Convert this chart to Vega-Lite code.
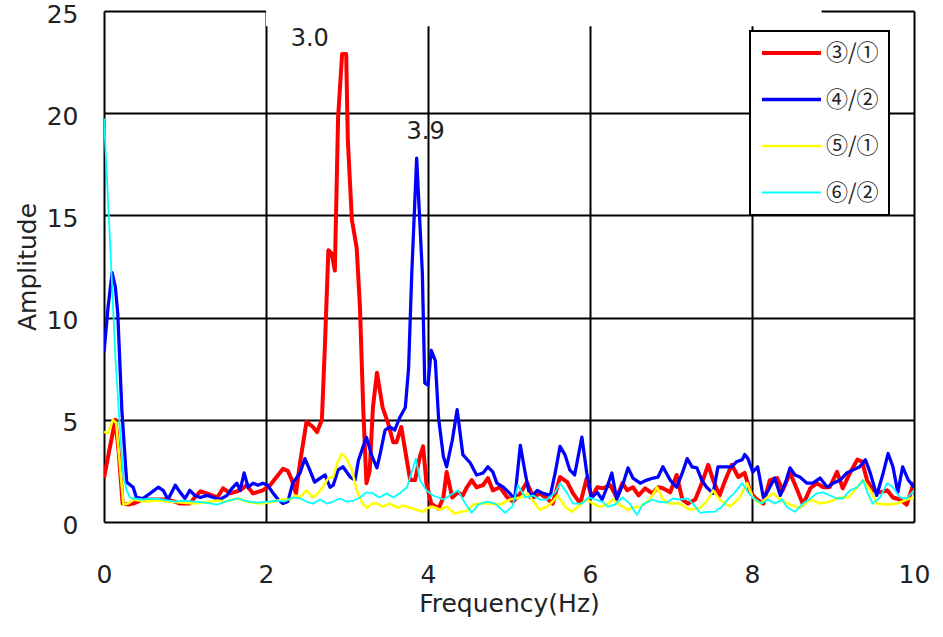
{
  "$schema": "https://vega.github.io/schema/vega-lite/v6.json",
  "width": 810,
  "height": 511,
  "autosize": {"type": "none"},
  "padding": {"left": 104, "top": 11, "right": 29, "bottom": 115},
  "background": "white",
  "config": {
    "view": {"stroke": null},
    "font": "DejaVu Sans",
    "axis": {
      "grid": true, "gridColor": "#000000", "gridWidth": 2, "gridOpacity": 1,
      "domain": false, "ticks": false,
      "labelFont": "DejaVu Sans", "labelFontSize": 25, "labelColor": "#222222",
      "titleFont": "DejaVu Sans", "titleFontSize": 25, "titleFontWeight": "normal", "titleColor": "#222222"
    },
    "legend": {
      "padding": 10, "strokeColor": "#000000", "strokeWidth": 2, "fillColor": "#ffffff",
      "symbolType": "stroke", "symbolSize": 3481, "clipHeight": 24, "rowPadding": 22.5,
      "labelOffset": 3, "labelFont": "Noto Sans CJK JP", "labelFontSize": 22, "labelColor": "#222222"
    }
  },
  "data": {
    "values": [
      {"s":"③/①","f":0,"a":2.15},{"s":"③/①","f":0.07,"a":3.6},{"s":"③/①","f":0.14,"a":5.0},{"s":"③/①","f":0.18,"a":3.5},{"s":"③/①","f":0.23,"a":0.9},{"s":"③/①","f":0.3,"a":0.85},{"s":"③/①","f":0.36,"a":0.9},{"s":"③/①","f":0.48,"a":1.1},{"s":"③/①","f":0.6,"a":1.1},{"s":"③/①","f":0.78,"a":1.1},{"s":"③/①","f":0.87,"a":1.0},{"s":"③/①","f":0.94,"a":0.9},{"s":"③/①","f":1.06,"a":0.9},{"s":"③/①","f":1.12,"a":1.2},{"s":"③/①","f":1.19,"a":1.5},{"s":"③/①","f":1.27,"a":1.4},{"s":"③/①","f":1.4,"a":1.2},{"s":"③/①","f":1.47,"a":1.65},{"s":"③/①","f":1.56,"a":1.4},{"s":"③/①","f":1.68,"a":1.55},{"s":"③/①","f":1.76,"a":1.8},{"s":"③/①","f":1.84,"a":1.4},{"s":"③/①","f":1.96,"a":1.55},{"s":"③/①","f":2.05,"a":1.8},{"s":"③/①","f":2.13,"a":2.2},{"s":"③/①","f":2.21,"a":2.6},{"s":"③/①","f":2.27,"a":2.5},{"s":"③/①","f":2.32,"a":2.05},{"s":"③/①","f":2.37,"a":1.4},{"s":"③/①","f":2.42,"a":2.9},{"s":"③/①","f":2.5,"a":4.9},{"s":"③/①","f":2.58,"a":4.65},{"s":"③/①","f":2.63,"a":4.4},{"s":"③/①","f":2.69,"a":5.0},{"s":"③/①","f":2.73,"a":8.9},{"s":"③/①","f":2.77,"a":13.3},{"s":"③/①","f":2.81,"a":13.15},{"s":"③/①","f":2.85,"a":12.3},{"s":"③/①","f":2.89,"a":19.8},{"s":"③/①","f":2.94,"a":22.9},{"s":"③/①","f":2.99,"a":22.9},{"s":"③/①","f":3.01,"a":18.7},{"s":"③/①","f":3.06,"a":14.8},{"s":"③/①","f":3.12,"a":13.4},{"s":"③/①","f":3.16,"a":10.5},{"s":"③/①","f":3.2,"a":5.6},{"s":"③/①","f":3.24,"a":1.9},{"s":"③/①","f":3.28,"a":2.5},{"s":"③/①","f":3.32,"a":5.6},{"s":"③/①","f":3.37,"a":7.3},{"s":"③/①","f":3.44,"a":5.6},{"s":"③/①","f":3.51,"a":4.8},{"s":"③/①","f":3.57,"a":3.9},{"s":"③/①","f":3.61,"a":3.9},{"s":"③/①","f":3.67,"a":4.65},{"s":"③/①","f":3.71,"a":3.7},{"s":"③/①","f":3.78,"a":2.05},{"s":"③/①","f":3.84,"a":2.05},{"s":"③/①","f":3.9,"a":3.2},{"s":"③/①","f":3.94,"a":3.7},{"s":"③/①","f":3.98,"a":1.9},{"s":"③/①","f":4.04,"a":0.9},{"s":"③/①","f":4.13,"a":0.65},{"s":"③/①","f":4.19,"a":1.2},{"s":"③/①","f":4.23,"a":2.45},{"s":"③/①","f":4.3,"a":1.2},{"s":"③/①","f":4.37,"a":1.45},{"s":"③/①","f":4.43,"a":1.3},{"s":"③/①","f":4.48,"a":1.7},{"s":"③/①","f":4.54,"a":2.05},{"s":"③/①","f":4.6,"a":1.7},{"s":"③/①","f":4.68,"a":1.8},{"s":"③/①","f":4.74,"a":2.15},{"s":"③/①","f":4.8,"a":1.55},{"s":"③/①","f":4.89,"a":1.7},{"s":"③/①","f":4.98,"a":1.2},{"s":"③/①","f":5.05,"a":1.0},{"s":"③/①","f":5.14,"a":1.4},{"s":"③/①","f":5.22,"a":1.95},{"s":"③/①","f":5.3,"a":1.2},{"s":"③/①","f":5.38,"a":1.4},{"s":"③/①","f":5.47,"a":1.15},{"s":"③/①","f":5.54,"a":0.9},{"s":"③/①","f":5.63,"a":2.2},{"s":"③/①","f":5.72,"a":1.95},{"s":"③/①","f":5.79,"a":1.4},{"s":"③/①","f":5.88,"a":0.9},{"s":"③/①","f":5.96,"a":2.15},{"s":"③/①","f":6.02,"a":1.2},{"s":"③/①","f":6.09,"a":1.7},{"s":"③/①","f":6.16,"a":1.65},{"s":"③/①","f":6.25,"a":1.8},{"s":"③/①","f":6.33,"a":1.2},{"s":"③/①","f":6.4,"a":1.9},{"s":"③/①","f":6.46,"a":1.55},{"s":"③/①","f":6.53,"a":1.7},{"s":"③/①","f":6.6,"a":1.3},{"s":"③/①","f":6.68,"a":1.65},{"s":"③/①","f":6.77,"a":1.4},{"s":"③/①","f":6.84,"a":1.7},{"s":"③/①","f":6.9,"a":1.65},{"s":"③/①","f":6.99,"a":1.45},{"s":"③/①","f":7.07,"a":2.3},{"s":"③/①","f":7.14,"a":1.1},{"s":"③/①","f":7.21,"a":0.9},{"s":"③/①","f":7.3,"a":1.1},{"s":"③/①","f":7.38,"a":1.9},{"s":"③/①","f":7.46,"a":2.8},{"s":"③/①","f":7.52,"a":2.05},{"s":"③/①","f":7.6,"a":1.3},{"s":"③/①","f":7.67,"a":2.05},{"s":"③/①","f":7.75,"a":2.8},{"s":"③/①","f":7.83,"a":2.2},{"s":"③/①","f":7.91,"a":2.4},{"s":"③/①","f":7.98,"a":1.45},{"s":"③/①","f":8.06,"a":1.1},{"s":"③/①","f":8.14,"a":0.9},{"s":"③/①","f":8.22,"a":2.05},{"s":"③/①","f":8.31,"a":2.15},{"s":"③/①","f":8.38,"a":1.55},{"s":"③/①","f":8.47,"a":2.4},{"s":"③/①","f":8.56,"a":1.55},{"s":"③/①","f":8.63,"a":0.85},{"s":"③/①","f":8.72,"a":1.65},{"s":"③/①","f":8.8,"a":1.9},{"s":"③/①","f":8.88,"a":1.7},{"s":"③/①","f":8.96,"a":1.7},{"s":"③/①","f":9.05,"a":2.45},{"s":"③/①","f":9.12,"a":1.65},{"s":"③/①","f":9.21,"a":2.4},{"s":"③/①","f":9.3,"a":3.05},{"s":"③/①","f":9.36,"a":2.95},{"s":"③/①","f":9.42,"a":2.05},{"s":"③/①","f":9.49,"a":1.55},{"s":"③/①","f":9.58,"a":1.45},{"s":"③/①","f":9.67,"a":1.55},{"s":"③/①","f":9.74,"a":1.2},{"s":"③/①","f":9.83,"a":1.1},{"s":"③/①","f":9.91,"a":0.85},{"s":"③/①","f":10.0,"a":1.95},
      {"s":"④/②","f":0,"a":8.3},{"s":"④/②","f":0.05,"a":10.5},{"s":"④/②","f":0.1,"a":12.2},{"s":"④/②","f":0.14,"a":11.5},{"s":"④/②","f":0.17,"a":10.2},{"s":"④/②","f":0.22,"a":5.5},{"s":"④/②","f":0.28,"a":1.95},{"s":"④/②","f":0.36,"a":1.7},{"s":"④/②","f":0.4,"a":1.2},{"s":"④/②","f":0.48,"a":1.15},{"s":"④/②","f":0.57,"a":1.4},{"s":"④/②","f":0.67,"a":1.7},{"s":"④/②","f":0.73,"a":1.55},{"s":"④/②","f":0.79,"a":1.1},{"s":"④/②","f":0.88,"a":1.8},{"s":"④/②","f":0.94,"a":1.45},{"s":"④/②","f":1.0,"a":1.15},{"s":"④/②","f":1.06,"a":1.55},{"s":"④/②","f":1.12,"a":1.3},{"s":"④/②","f":1.19,"a":1.2},{"s":"④/②","f":1.27,"a":1.3},{"s":"④/②","f":1.35,"a":1.2},{"s":"④/②","f":1.43,"a":1.1},{"s":"④/②","f":1.52,"a":1.3},{"s":"④/②","f":1.58,"a":1.65},{"s":"④/②","f":1.64,"a":1.9},{"s":"④/②","f":1.68,"a":1.55},{"s":"④/②","f":1.73,"a":2.4},{"s":"④/②","f":1.78,"a":1.7},{"s":"④/②","f":1.84,"a":1.9},{"s":"④/②","f":1.9,"a":1.8},{"s":"④/②","f":1.96,"a":1.9},{"s":"④/②","f":2.02,"a":1.8},{"s":"④/②","f":2.09,"a":1.4},{"s":"④/②","f":2.15,"a":1.1},{"s":"④/②","f":2.21,"a":0.9},{"s":"④/②","f":2.27,"a":1.0},{"s":"④/②","f":2.33,"a":1.9},{"s":"④/②","f":2.42,"a":2.4},{"s":"④/②","f":2.48,"a":3.1},{"s":"④/②","f":2.54,"a":2.55},{"s":"④/②","f":2.6,"a":1.95},{"s":"④/②","f":2.67,"a":2.15},{"s":"④/②","f":2.73,"a":2.3},{"s":"④/②","f":2.79,"a":1.7},{"s":"④/②","f":2.83,"a":1.8},{"s":"④/②","f":2.89,"a":2.55},{"s":"④/②","f":2.95,"a":2.7},{"s":"④/②","f":3.04,"a":2.2},{"s":"④/②","f":3.1,"a":2.05},{"s":"④/②","f":3.14,"a":3.0},{"s":"④/②","f":3.2,"a":3.7},{"s":"④/②","f":3.24,"a":4.15},{"s":"④/②","f":3.31,"a":3.2},{"s":"④/②","f":3.37,"a":2.65},{"s":"④/②","f":3.41,"a":3.35},{"s":"④/②","f":3.47,"a":4.5},{"s":"④/②","f":3.53,"a":4.65},{"s":"④/②","f":3.59,"a":4.5},{"s":"④/②","f":3.65,"a":5.1},{"s":"④/②","f":3.72,"a":5.6},{"s":"④/②","f":3.76,"a":7.5},{"s":"④/②","f":3.8,"a":12.2},{"s":"④/②","f":3.86,"a":17.8},{"s":"④/②","f":3.93,"a":12.2},{"s":"④/②","f":3.96,"a":6.8},{"s":"④/②","f":4.0,"a":6.7},{"s":"④/②","f":4.04,"a":8.4},{"s":"④/②","f":4.09,"a":7.9},{"s":"④/②","f":4.13,"a":5.1},{"s":"④/②","f":4.19,"a":3.2},{"s":"④/②","f":4.23,"a":2.7},{"s":"④/②","f":4.3,"a":4.0},{"s":"④/②","f":4.36,"a":5.5},{"s":"④/②","f":4.43,"a":3.3},{"s":"④/②","f":4.52,"a":2.9},{"s":"④/②","f":4.6,"a":2.3},{"s":"④/②","f":4.68,"a":2.4},{"s":"④/②","f":4.74,"a":2.7},{"s":"④/②","f":4.8,"a":2.45},{"s":"④/②","f":4.85,"a":1.9},{"s":"④/②","f":4.93,"a":1.7},{"s":"④/②","f":5.01,"a":1.4},{"s":"④/②","f":5.07,"a":1.1},{"s":"④/②","f":5.14,"a":3.75},{"s":"④/②","f":5.2,"a":2.4},{"s":"④/②","f":5.26,"a":1.2},{"s":"④/②","f":5.35,"a":1.55},{"s":"④/②","f":5.42,"a":1.4},{"s":"④/②","f":5.51,"a":1.3},{"s":"④/②","f":5.57,"a":2.4},{"s":"④/②","f":5.63,"a":3.7},{"s":"④/②","f":5.69,"a":3.3},{"s":"④/②","f":5.75,"a":2.55},{"s":"④/②","f":5.81,"a":2.3},{"s":"④/②","f":5.9,"a":4.15},{"s":"④/②","f":5.96,"a":2.4},{"s":"④/②","f":6.02,"a":1.2},{"s":"④/②","f":6.09,"a":1.45},{"s":"④/②","f":6.15,"a":1.1},{"s":"④/②","f":6.21,"a":1.7},{"s":"④/②","f":6.27,"a":2.4},{"s":"④/②","f":6.33,"a":1.1},{"s":"④/②","f":6.41,"a":1.9},{"s":"④/②","f":6.47,"a":2.65},{"s":"④/②","f":6.53,"a":2.15},{"s":"④/②","f":6.62,"a":1.9},{"s":"④/②","f":6.7,"a":2.05},{"s":"④/②","f":6.78,"a":2.15},{"s":"④/②","f":6.84,"a":2.2},{"s":"④/②","f":6.9,"a":2.7},{"s":"④/②","f":6.99,"a":2.05},{"s":"④/②","f":7.07,"a":1.7},{"s":"④/②","f":7.14,"a":2.4},{"s":"④/②","f":7.2,"a":3.1},{"s":"④/②","f":7.26,"a":2.7},{"s":"④/②","f":7.32,"a":2.65},{"s":"④/②","f":7.38,"a":2.05},{"s":"④/②","f":7.44,"a":1.7},{"s":"④/②","f":7.52,"a":1.4},{"s":"④/②","f":7.58,"a":2.7},{"s":"④/②","f":7.67,"a":2.7},{"s":"④/②","f":7.75,"a":2.7},{"s":"④/②","f":7.81,"a":2.95},{"s":"④/②","f":7.88,"a":3.05},{"s":"④/②","f":7.91,"a":3.3},{"s":"④/②","f":7.95,"a":3.1},{"s":"④/②","f":8.01,"a":2.45},{"s":"④/②","f":8.07,"a":2.7},{"s":"④/②","f":8.14,"a":1.2},{"s":"④/②","f":8.2,"a":1.55},{"s":"④/②","f":8.28,"a":2.15},{"s":"④/②","f":8.35,"a":1.3},{"s":"④/②","f":8.41,"a":1.9},{"s":"④/②","f":8.47,"a":2.65},{"s":"④/②","f":8.53,"a":2.3},{"s":"④/②","f":8.59,"a":2.2},{"s":"④/②","f":8.68,"a":1.9},{"s":"④/②","f":8.75,"a":1.9},{"s":"④/②","f":8.84,"a":2.15},{"s":"④/②","f":8.93,"a":1.7},{"s":"④/②","f":9.0,"a":1.9},{"s":"④/②","f":9.09,"a":2.05},{"s":"④/②","f":9.17,"a":2.4},{"s":"④/②","f":9.25,"a":2.55},{"s":"④/②","f":9.33,"a":2.7},{"s":"④/②","f":9.4,"a":3.05},{"s":"④/②","f":9.46,"a":2.4},{"s":"④/②","f":9.54,"a":1.3},{"s":"④/②","f":9.62,"a":2.4},{"s":"④/②","f":9.68,"a":3.35},{"s":"④/②","f":9.74,"a":2.7},{"s":"④/②","f":9.8,"a":1.45},{"s":"④/②","f":9.86,"a":2.7},{"s":"④/②","f":9.93,"a":2.05},{"s":"④/②","f":10.0,"a":1.7},
      {"s":"⑤/①","f":0,"a":4.4},{"s":"⑤/①","f":0.05,"a":4.35},{"s":"⑤/①","f":0.11,"a":5.0},{"s":"⑤/①","f":0.15,"a":4.85},{"s":"⑤/①","f":0.24,"a":0.85},{"s":"⑤/①","f":0.3,"a":0.9},{"s":"⑤/①","f":0.36,"a":1.1},{"s":"⑤/①","f":0.5,"a":1.0},{"s":"⑤/①","f":0.65,"a":1.05},{"s":"⑤/①","f":0.8,"a":1.0},{"s":"⑤/①","f":0.95,"a":0.95},{"s":"⑤/①","f":1.1,"a":0.9},{"s":"⑤/①","f":1.25,"a":0.95},{"s":"⑤/①","f":1.4,"a":1.05},{"s":"⑤/①","f":1.5,"a":1.0},{"s":"⑤/①","f":1.65,"a":1.15},{"s":"⑤/①","f":1.8,"a":0.95},{"s":"⑤/①","f":1.95,"a":0.9},{"s":"⑤/①","f":2.1,"a":1.0},{"s":"⑤/①","f":2.2,"a":1.1},{"s":"⑤/①","f":2.3,"a":1.1},{"s":"⑤/①","f":2.36,"a":1.3},{"s":"⑤/①","f":2.42,"a":1.2},{"s":"⑤/①","f":2.5,"a":1.55},{"s":"⑤/①","f":2.58,"a":1.2},{"s":"⑤/①","f":2.64,"a":1.4},{"s":"⑤/①","f":2.7,"a":1.7},{"s":"⑤/①","f":2.77,"a":2.15},{"s":"⑤/①","f":2.83,"a":2.2},{"s":"⑤/①","f":2.88,"a":2.9},{"s":"⑤/①","f":2.94,"a":3.35},{"s":"⑤/①","f":3.0,"a":3.05},{"s":"⑤/①","f":3.06,"a":2.55},{"s":"⑤/①","f":3.12,"a":1.55},{"s":"⑤/①","f":3.19,"a":0.9},{"s":"⑤/①","f":3.25,"a":0.7},{"s":"⑤/①","f":3.31,"a":0.9},{"s":"⑤/①","f":3.37,"a":0.9},{"s":"⑤/①","f":3.44,"a":0.75},{"s":"⑤/①","f":3.53,"a":0.9},{"s":"⑤/①","f":3.62,"a":0.7},{"s":"⑤/①","f":3.69,"a":0.8},{"s":"⑤/①","f":3.78,"a":0.7},{"s":"⑤/①","f":3.86,"a":0.6},{"s":"⑤/①","f":3.94,"a":0.5},{"s":"⑤/①","f":4.0,"a":0.7},{"s":"⑤/①","f":4.06,"a":0.75},{"s":"⑤/①","f":4.15,"a":0.6},{"s":"⑤/①","f":4.23,"a":0.75},{"s":"⑤/①","f":4.33,"a":0.4},{"s":"⑤/①","f":4.4,"a":0.5},{"s":"⑤/①","f":4.48,"a":0.55},{"s":"⑤/①","f":4.56,"a":0.85},{"s":"⑤/①","f":4.64,"a":0.9},{"s":"⑤/①","f":4.76,"a":0.9},{"s":"⑤/①","f":4.89,"a":0.85},{"s":"⑤/①","f":5.01,"a":1.1},{"s":"⑤/①","f":5.14,"a":1.2},{"s":"⑤/①","f":5.23,"a":1.4},{"s":"⑤/①","f":5.32,"a":0.9},{"s":"⑤/①","f":5.38,"a":0.6},{"s":"⑤/①","f":5.47,"a":0.75},{"s":"⑤/①","f":5.54,"a":1.0},{"s":"⑤/①","f":5.6,"a":1.3},{"s":"⑤/①","f":5.69,"a":0.75},{"s":"⑤/①","f":5.78,"a":0.5},{"s":"⑤/①","f":5.88,"a":0.85},{"s":"⑤/①","f":5.96,"a":1.1},{"s":"⑤/①","f":6.04,"a":0.9},{"s":"⑤/①","f":6.12,"a":0.75},{"s":"⑤/①","f":6.21,"a":0.85},{"s":"⑤/①","f":6.28,"a":1.1},{"s":"⑤/①","f":6.37,"a":0.85},{"s":"⑤/①","f":6.46,"a":0.6},{"s":"⑤/①","f":6.53,"a":0.7},{"s":"⑤/①","f":6.62,"a":0.75},{"s":"⑤/①","f":6.74,"a":1.1},{"s":"⑤/①","f":6.83,"a":1.7},{"s":"⑤/①","f":6.9,"a":1.1},{"s":"⑤/①","f":6.99,"a":0.9},{"s":"⑤/①","f":7.11,"a":0.9},{"s":"⑤/①","f":7.23,"a":0.6},{"s":"⑤/①","f":7.36,"a":0.7},{"s":"⑤/①","f":7.44,"a":1.0},{"s":"⑤/①","f":7.52,"a":1.55},{"s":"⑤/①","f":7.6,"a":1.1},{"s":"⑤/①","f":7.73,"a":0.75},{"s":"⑤/①","f":7.85,"a":1.2},{"s":"⑤/①","f":7.94,"a":1.9},{"s":"⑤/①","f":8.01,"a":1.2},{"s":"⑤/①","f":8.1,"a":0.9},{"s":"⑤/①","f":8.19,"a":1.2},{"s":"⑤/①","f":8.26,"a":1.4},{"s":"⑤/①","f":8.35,"a":1.1},{"s":"⑤/①","f":8.47,"a":0.85},{"s":"⑤/①","f":8.59,"a":0.7},{"s":"⑤/①","f":8.72,"a":1.1},{"s":"⑤/①","f":8.84,"a":0.9},{"s":"⑤/①","f":8.96,"a":1.0},{"s":"⑤/①","f":9.09,"a":1.2},{"s":"⑤/①","f":9.19,"a":1.2},{"s":"⑤/①","f":9.3,"a":1.7},{"s":"⑤/①","f":9.37,"a":2.05},{"s":"⑤/①","f":9.46,"a":1.55},{"s":"⑤/①","f":9.54,"a":0.9},{"s":"⑤/①","f":9.67,"a":0.85},{"s":"⑤/①","f":9.79,"a":0.9},{"s":"⑤/①","f":9.91,"a":1.1},{"s":"⑤/①","f":10.0,"a":1.2},
      {"s":"⑥/②","f":0,"a":19.75},{"s":"⑥/②","f":0.07,"a":14.1},{"s":"⑥/②","f":0.14,"a":8.1},{"s":"⑥/②","f":0.2,"a":4.35},{"s":"⑥/②","f":0.24,"a":2.2},{"s":"⑥/②","f":0.28,"a":1.55},{"s":"⑥/②","f":0.32,"a":1.2},{"s":"⑥/②","f":0.36,"a":1.15},{"s":"⑥/②","f":0.48,"a":1.1},{"s":"⑥/②","f":0.6,"a":1.15},{"s":"⑥/②","f":0.73,"a":1.1},{"s":"⑥/②","f":0.87,"a":1.0},{"s":"⑥/②","f":1.0,"a":1.05},{"s":"⑥/②","f":1.12,"a":1.0},{"s":"⑥/②","f":1.25,"a":0.95},{"s":"⑥/②","f":1.4,"a":0.85},{"s":"⑥/②","f":1.5,"a":1.0},{"s":"⑥/②","f":1.65,"a":1.15},{"s":"⑥/②","f":1.78,"a":1.0},{"s":"⑥/②","f":1.9,"a":0.95},{"s":"⑥/②","f":2.03,"a":1.0},{"s":"⑥/②","f":2.15,"a":1.05},{"s":"⑥/②","f":2.23,"a":1.0},{"s":"⑥/②","f":2.33,"a":1.2},{"s":"⑥/②","f":2.42,"a":1.15},{"s":"⑥/②","f":2.5,"a":1.0},{"s":"⑥/②","f":2.58,"a":0.9},{"s":"⑥/②","f":2.67,"a":1.1},{"s":"⑥/②","f":2.75,"a":0.9},{"s":"⑥/②","f":2.83,"a":1.0},{"s":"⑥/②","f":2.91,"a":1.15},{"s":"⑥/②","f":3.0,"a":1.0},{"s":"⑥/②","f":3.08,"a":1.05},{"s":"⑥/②","f":3.16,"a":1.2},{"s":"⑥/②","f":3.24,"a":1.45},{"s":"⑥/②","f":3.32,"a":1.4},{"s":"⑥/②","f":3.4,"a":1.2},{"s":"⑥/②","f":3.49,"a":1.4},{"s":"⑥/②","f":3.57,"a":1.2},{"s":"⑥/②","f":3.65,"a":1.4},{"s":"⑥/②","f":3.74,"a":1.7},{"s":"⑥/②","f":3.8,"a":2.45},{"s":"⑥/②","f":3.85,"a":3.1},{"s":"⑥/②","f":3.9,"a":2.05},{"s":"⑥/②","f":3.98,"a":1.55},{"s":"⑥/②","f":4.06,"a":1.3},{"s":"⑥/②","f":4.13,"a":1.2},{"s":"⑥/②","f":4.19,"a":1.1},{"s":"⑥/②","f":4.27,"a":1.3},{"s":"⑥/②","f":4.37,"a":1.55},{"s":"⑥/②","f":4.46,"a":0.9},{"s":"⑥/②","f":4.54,"a":0.45},{"s":"⑥/②","f":4.62,"a":0.85},{"s":"⑥/②","f":4.73,"a":1.0},{"s":"⑥/②","f":4.83,"a":0.9},{"s":"⑥/②","f":4.95,"a":0.45},{"s":"⑥/②","f":5.04,"a":0.75},{"s":"⑥/②","f":5.11,"a":1.8},{"s":"⑥/②","f":5.2,"a":1.2},{"s":"⑥/②","f":5.3,"a":1.3},{"s":"⑥/②","f":5.38,"a":1.1},{"s":"⑥/②","f":5.47,"a":1.1},{"s":"⑥/②","f":5.57,"a":1.45},{"s":"⑥/②","f":5.63,"a":1.9},{"s":"⑥/②","f":5.72,"a":1.4},{"s":"⑥/②","f":5.79,"a":0.9},{"s":"⑥/②","f":5.9,"a":0.9},{"s":"⑥/②","f":5.98,"a":1.2},{"s":"⑥/②","f":6.06,"a":1.1},{"s":"⑥/②","f":6.15,"a":1.0},{"s":"⑥/②","f":6.22,"a":0.75},{"s":"⑥/②","f":6.31,"a":0.85},{"s":"⑥/②","f":6.4,"a":1.2},{"s":"⑥/②","f":6.49,"a":0.9},{"s":"⑥/②","f":6.58,"a":0.35},{"s":"⑥/②","f":6.65,"a":0.85},{"s":"⑥/②","f":6.77,"a":1.1},{"s":"⑥/②","f":6.84,"a":1.0},{"s":"⑥/②","f":6.95,"a":0.95},{"s":"⑥/②","f":7.02,"a":1.15},{"s":"⑥/②","f":7.11,"a":1.1},{"s":"⑥/②","f":7.21,"a":1.15},{"s":"⑥/②","f":7.3,"a":0.75},{"s":"⑥/②","f":7.36,"a":0.45},{"s":"⑥/②","f":7.44,"a":0.5},{"s":"⑥/②","f":7.54,"a":0.5},{"s":"⑥/②","f":7.63,"a":0.75},{"s":"⑥/②","f":7.7,"a":1.1},{"s":"⑥/②","f":7.79,"a":1.45},{"s":"⑥/②","f":7.88,"a":1.9},{"s":"⑥/②","f":7.95,"a":1.45},{"s":"⑥/②","f":8.04,"a":1.1},{"s":"⑥/②","f":8.12,"a":0.9},{"s":"⑥/②","f":8.2,"a":1.1},{"s":"⑥/②","f":8.28,"a":0.9},{"s":"⑥/②","f":8.37,"a":1.1},{"s":"⑥/②","f":8.44,"a":0.7},{"s":"⑥/②","f":8.53,"a":0.5},{"s":"⑥/②","f":8.63,"a":0.9},{"s":"⑥/②","f":8.72,"a":1.15},{"s":"⑥/②","f":8.8,"a":1.4},{"s":"⑥/②","f":8.88,"a":1.45},{"s":"⑥/②","f":8.96,"a":1.3},{"s":"⑥/②","f":9.05,"a":1.15},{"s":"⑥/②","f":9.12,"a":1.15},{"s":"⑥/②","f":9.21,"a":1.55},{"s":"⑥/②","f":9.3,"a":1.7},{"s":"⑥/②","f":9.37,"a":2.05},{"s":"⑥/②","f":9.43,"a":1.4},{"s":"⑥/②","f":9.49,"a":0.9},{"s":"⑥/②","f":9.58,"a":1.2},{"s":"⑥/②","f":9.67,"a":1.9},{"s":"⑥/②","f":9.74,"a":1.7},{"s":"⑥/②","f":9.83,"a":1.2},{"s":"⑥/②","f":9.91,"a":1.15},{"s":"⑥/②","f":10.0,"a":1.55}
    ]
  },
  "layer": [
    {
      "mark": {"type": "line", "strokeJoin": "round", "clip": true},
      "encoding": {
        "x": {"field": "f", "type": "quantitative", "scale": {"domain": [0, 10], "nice": false},
              "axis": {"values": [0, 2, 4, 6, 8, 10], "format": "d", "title": "Frequency(Hz)", "labelPadding": 40, "titlePadding": 4, "labelFlush": false}},
        "y": {"field": "a", "type": "quantitative", "scale": {"domain": [0, 25], "nice": false},
              "axis": {"values": [0, 5, 10, 15, 20, 25], "format": "d", "title": "Amplitude", "labelPadding": 26, "titlePadding": 6, "labelOffset": 3}},
        "color": {"field": "s", "type": "nominal",
                  "scale": {"domain": ["③/①", "④/②", "⑤/①", "⑥/②"], "range": ["#ff0000", "#0000ff", "#ffff00", "#00ffff"]},
                  "legend": {"title": null, "orient": "none", "legendX": 646, "legendY": 20}},
        "strokeWidth": {"field": "s", "type": "nominal",
                  "scale": {"domain": ["③/①", "④/②", "⑤/①", "⑥/②"], "range": [4, 1.8, 1.5, 1.5]},
                  "legend": {"title": null, "orient": "none", "legendX": 646, "legendY": 20}}
      }
    },
    {
      "data": {"values": [{}]},
      "mark": {"type": "rect", "color": "#ffffff", "clip": false},
      "encoding": {"x": {"datum": 2.0}, "x2": {"datum": 8.86}, "y": {"datum": 24.25}, "y2": {"datum": 25.8}}
    },
    {
      "data": {"values": [{"f": 2.54, "a": 23.65, "t": "3.0"}, {"f": 3.97, "a": 19.1, "t": "3.9"}]},
      "mark": {"type": "text", "font": "DejaVu Sans", "fontSize": 24, "color": "#222222"},
      "encoding": {
        "x": {"field": "f", "type": "quantitative"},
        "y": {"field": "a", "type": "quantitative"},
        "text": {"field": "t"}
      }
    }
  ]
}
